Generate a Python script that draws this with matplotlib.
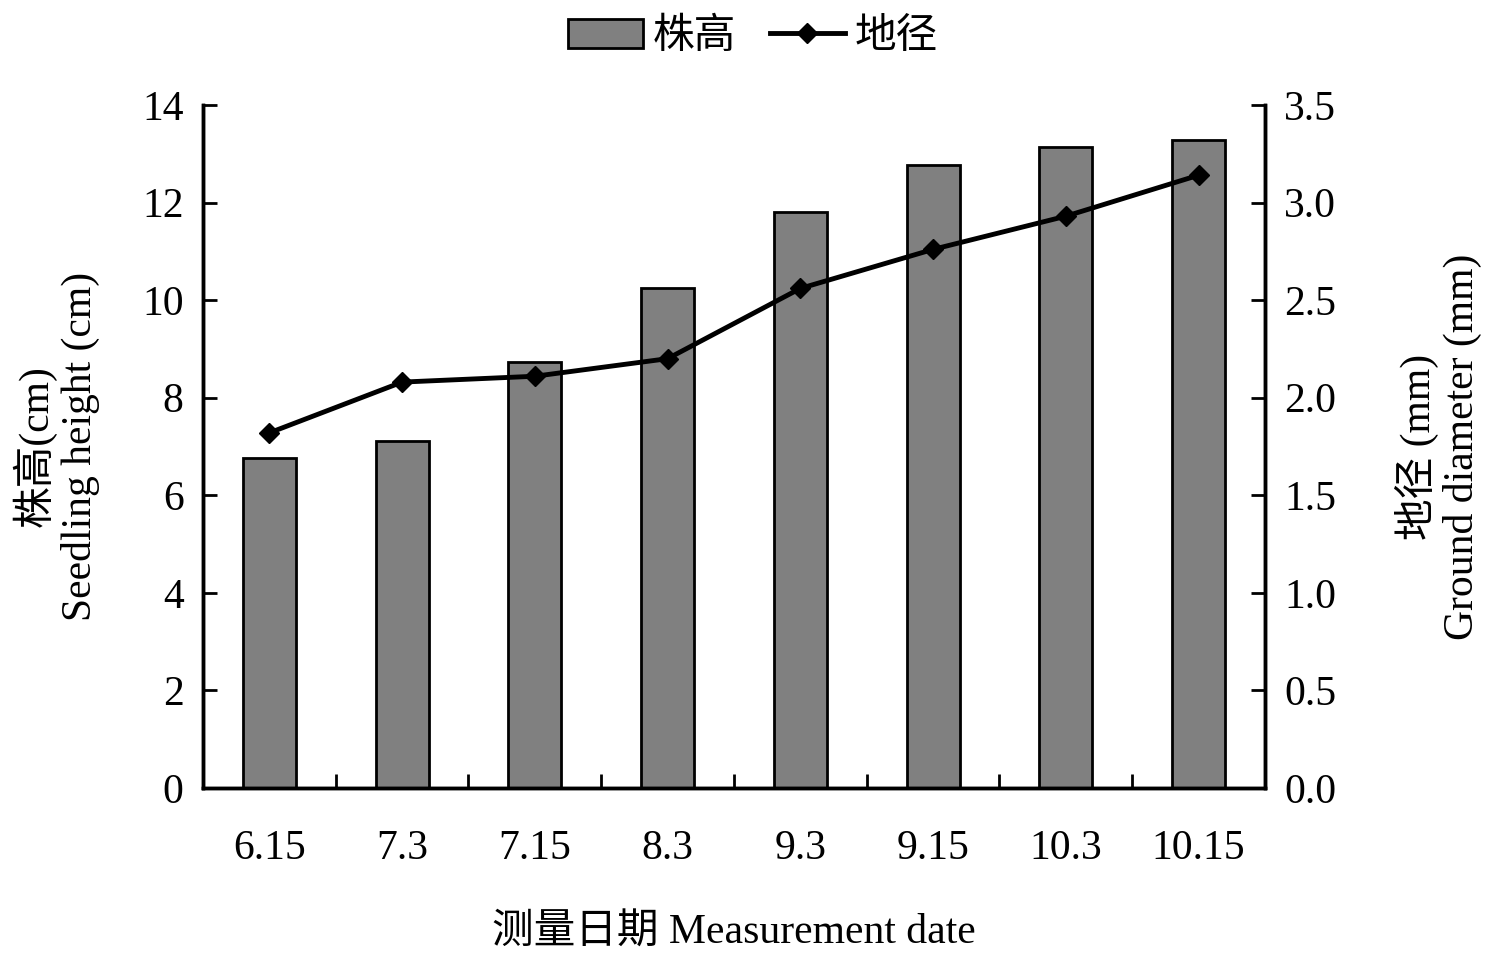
import matplotlib
matplotlib.use("Agg")
import matplotlib.pyplot as plt
import numpy as np

plt.rcParams['font.family'] = ['Liberation Serif', 'Noto Sans CJK SC']

dates = ['6.15', '7.3', '7.15', '8.3', '9.3', '9.15', '10.3', '10.15']
height = [6.76, 7.11, 8.73, 10.25, 11.80, 12.77, 13.14, 13.28]
diameter = [1.82, 2.08, 2.11, 2.20, 2.56, 2.76, 2.93, 3.14]

fig = plt.figure(figsize=(15, 9.56), dpi=100)
ax = fig.add_axes([0.1353, 0.1757, 0.7080, 0.7145])
ax2 = ax.twinx()

x = np.arange(len(dates))
bars = ax.bar(x, height, width=0.4, color='#808080', edgecolor='black', linewidth=2, label='株高')
line, = ax2.plot(x, diameter, color='black', linewidth=3.5, marker='D', markersize=10, label='地径')

ax.set_xlim(-0.5, len(dates) - 0.5)
ax.set_ylim(0, 14)
ax.set_yticks(np.arange(0, 15, 2))
ax2.set_ylim(0, 3.5)
ax2.set_yticks(np.arange(0, 3.51, 0.5))
ax2.set_yticklabels([f'{v:.1f}' for v in np.arange(0, 3.51, 0.5)])

# x ticks at category boundaries, labels centred
ax.set_xticks(np.arange(0.5, len(dates) - 0.5, 1))
ax.set_xticklabels([])
ax.set_xticks(x, minor=True)
ax.set_xticklabels(dates, minor=True)
ax.tick_params(axis='x', which='major', direction='in', length=10, width=2)
ax.tick_params(axis='x', which='minor', length=0, pad=30, labelsize=30)
ax.tick_params(axis='y', direction='in', length=10, width=2, labelsize=30, pad=14)
ax2.tick_params(axis='y', direction='in', length=10, width=2, labelsize=30, pad=14)

for a in (ax, ax2):
    a.spines['top'].set_visible(False)
    for s in ('left', 'right', 'bottom'):
        a.spines[s].set_linewidth(2.5)

ax.set_xlabel('测量日期 Measurement date', fontsize=30, labelpad=33)
ax.set_ylabel('株高(cm)\nSeedling height (cm)', fontsize=30, labelpad=30, linespacing=1.15)
ax2.set_ylabel('地径 (mm)\nGround diameter (mm)', fontsize=30, labelpad=42, linespacing=1.15)

fig.legend([bars, line], ['株高', '地径'], loc='upper center', bbox_to_anchor=(0.502, 1.02),
           ncol=2, frameon=False, fontsize=30, handlelength=1.8, columnspacing=0.8, handletextpad=0.25)

fig.savefig('out.png', dpi=100)
